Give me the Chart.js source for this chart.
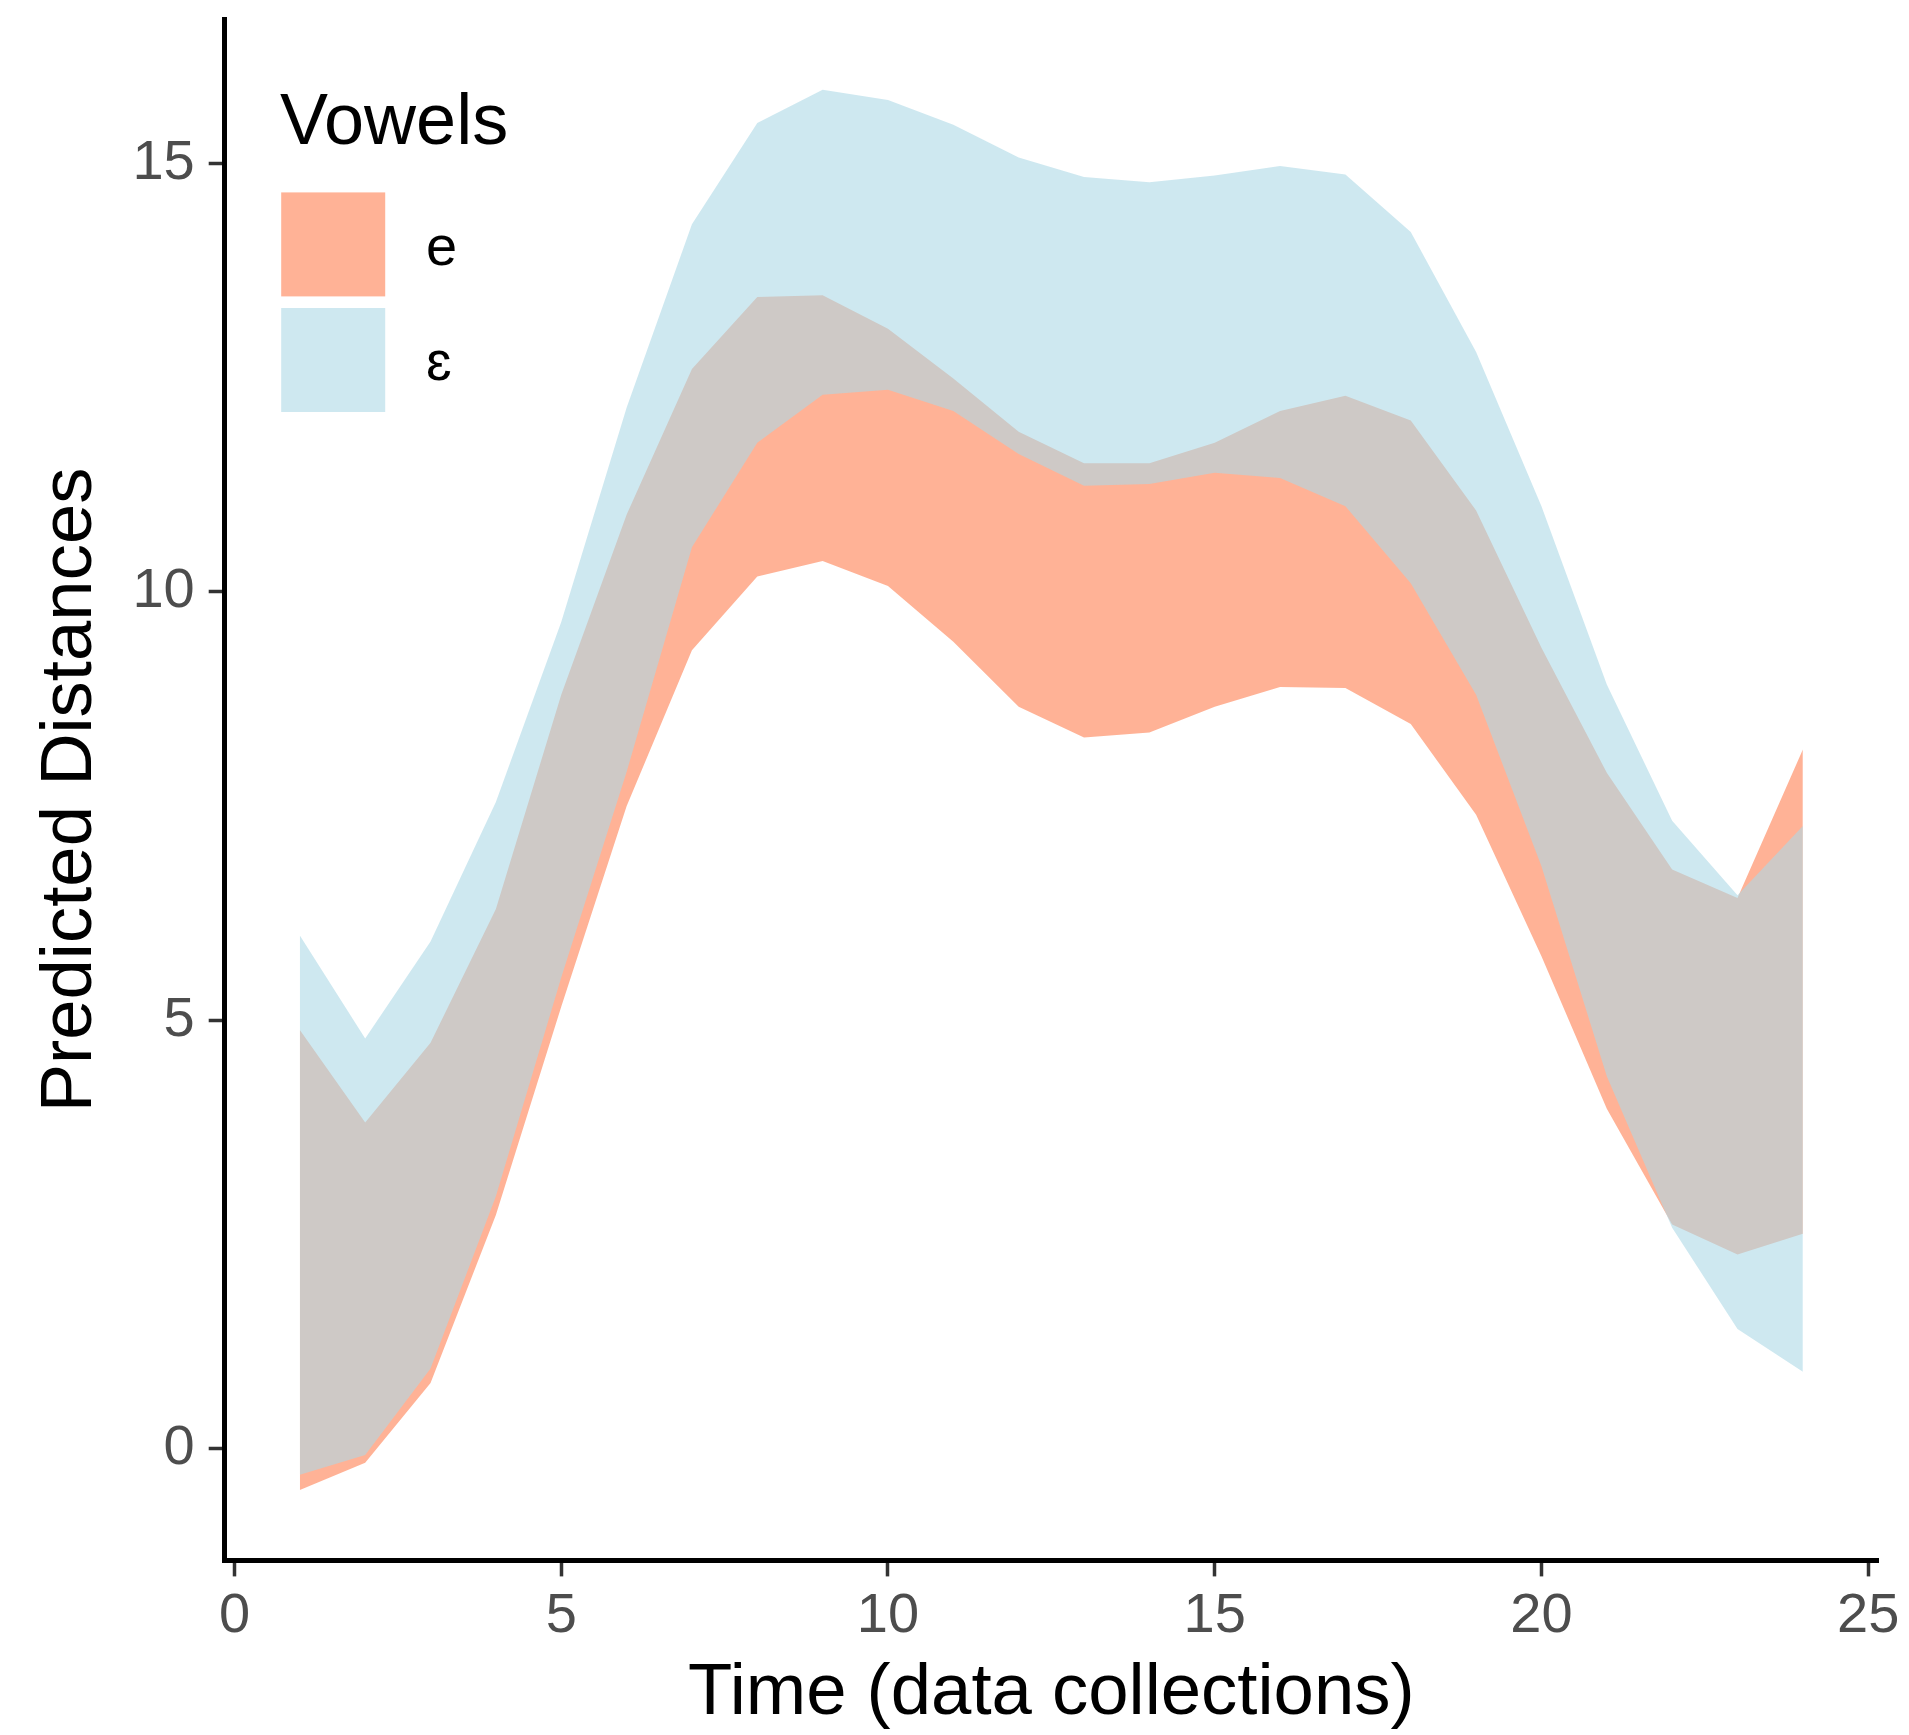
<!DOCTYPE html>
<html>
<head>
<meta charset="utf-8">
<title>Predicted Distances by Vowel</title>
<script src="https://cdn.jsdelivr.net/npm/chart.js@4.4.1/dist/chart.umd.min.js"></script>
<style>
  html, body { margin: 0; padding: 0; background: #ffffff; }
  #wrap { width: 1909px; height: 1735px; }
</style>
</head>
<body>
<div id="wrap"><canvas id="chart" width="1909" height="1735"></canvas></div>
<script>
// Time points (data collections)
const timePoints = [1, 2, 3, 4, 5, 6, 7, 8, 9, 10, 11, 12, 13, 14, 15, 16, 17, 18, 19, 20, 21, 22, 23, 24];

// Vowel categories
const vowels = ['e', 'ɛ'];

// Ribbon bounds for /e/
const eUpper = [4.89, 3.81, 4.74, 6.30, 8.80, 10.90, 12.60, 13.44, 13.46, 13.07, 12.49, 11.87,
                11.50, 11.50, 11.74, 12.11, 12.29, 12.00, 10.95, 9.35, 7.89, 6.76, 6.43, 8.16];
const eLower = [-0.48, -0.16, 0.77, 2.73, 5.16, 7.50, 9.32, 10.18, 10.36, 10.07, 9.42, 8.66,
                8.30, 8.36, 8.66, 8.89, 8.88, 8.46, 7.40, 5.75, 3.97, 2.62, 2.27, 2.51];

// Ribbon bounds for /ɛ/
const epsUpper = [5.99, 4.79, 5.92, 7.55, 9.65, 12.15, 14.29, 15.47, 15.86, 15.74, 15.45, 15.07,
                  14.84, 14.78, 14.86, 14.97, 14.87, 14.20, 12.80, 11.00, 8.92, 7.33, 6.46, 7.27];
const epsLower = [-0.30, -0.07, 0.94, 2.95, 5.50, 7.90, 10.52, 11.74, 12.30, 12.36, 12.11, 11.61,
                  11.24, 11.26, 11.39, 11.33, 11.00, 10.10, 8.80, 6.80, 4.35, 2.58, 1.40, 0.90];

// Axis tick labels
const xTicks = [0, 5, 10, 15, 20, 25];
const yTicks = [0, 5, 10, 15];

const FONT = "'Liberation Sans', Arial, Helvetica, sans-serif";
const COLOR_E = 'rgba(255, 127, 80, 0.6)';     // coral, semi-transparent
const COLOR_EPS = 'rgba(173, 216, 230, 0.6)';  // light blue, semi-transparent

const toPoints = arr => arr.map((v, i) => ({ x: timePoints[i], y: v }));

const ribbonBase = {
  borderWidth: 0,
  borderColor: 'transparent',
  pointRadius: 0,
  pointHoverRadius: 0,
  tension: 0
};

// Legend drawn inside the panel, top-left
const vowelLegend = {
  id: 'vowelLegend',
  afterDraw(chart) {
    const { ctx, chartArea } = chart;
    const x0 = chartArea.left;
    const y0 = chartArea.top;
    const keyColors = [COLOR_E, COLOR_EPS];
    ctx.save();
    ctx.fillStyle = '#000000';
    ctx.font = `72px ${FONT}`;
    ctx.textAlign = 'left';
    ctx.textBaseline = 'alphabetic';
    ctx.fillText('Vowels', x0 + 55.3, y0 + 124.3);
    const keySize = 104;
    const keyTops = [173, 288.6];
    vowels.forEach((v, i) => {
      const top = y0 + keyTops[i];
      ctx.fillStyle = '#ffffff';
      ctx.fillRect(x0 + 56.5, top, keySize, keySize);
      ctx.fillStyle = keyColors[i];
      ctx.fillRect(x0 + 56.5, top, keySize, keySize);
      ctx.fillStyle = '#000000';
      ctx.font = `56px ${FONT}`;
      ctx.textBaseline = 'middle';
      ctx.fillText(v, x0 + 201.4, top + keySize / 2 + 5);
    });
    ctx.restore();
  }
};

new Chart(document.getElementById('chart'), {
  type: 'line',
  data: {
    datasets: [
      Object.assign({ label: vowels[0] + ' lower', data: toPoints(eLower), fill: false, order: 2 }, ribbonBase),
      Object.assign({ label: vowels[0], data: toPoints(eUpper), fill: '-1', backgroundColor: COLOR_E, order: 2 }, ribbonBase),
      Object.assign({ label: vowels[1] + ' lower', data: toPoints(epsLower), fill: false, order: 1 }, ribbonBase),
      Object.assign({ label: vowels[1], data: toPoints(epsUpper), fill: '-1', backgroundColor: COLOR_EPS, order: 1 }, ribbonBase)
    ]
  },
  options: {
    responsive: false,
    animation: false,
    devicePixelRatio: 1,
    layout: { padding: { top: 19.4, right: 31, left: 0, bottom: 0 } },
    plugins: {
      legend: { display: false },
      tooltip: { enabled: false }
    },
    scales: {
      x: {
        type: 'linear',
        min: -0.15,
        max: 25.15,
        afterBuildTicks: s => { s.ticks = xTicks.map(v => ({ value: v })); },
        afterFit: s => { s.height = 1735 - 1560.4; s.paddingLeft = 0; s.paddingRight = 0; },
        border: { display: true, color: '#000000', width: 5 },
        grid: { display: true, drawOnChartArea: false, drawTicks: true, tickLength: 16, tickWidth: 3.5, tickColor: '#333333' },
        ticks: { color: '#4D4D4D', font: { family: FONT, size: 56 }, padding: 7, maxRotation: 0, autoSkip: false },
        title: { display: true, text: 'Time (data collections)', color: '#000000', font: { family: FONT, size: 72.5 }, padding: { top: 0, bottom: -2 } }
      },
      y: {
        type: 'linear',
        min: -1.30,
        max: 16.68,
        afterBuildTicks: s => { s.ticks = yTicks.map(v => ({ value: v })); },
        afterFit: s => { s.width = 224.7; s.paddingTop = 0; s.paddingBottom = 0; },
        border: { display: true, color: '#000000', width: 5 },
        grid: { display: true, drawOnChartArea: false, drawTicks: true, tickLength: 16, tickWidth: 3.5, tickColor: '#333333' },
        ticks: { color: '#4D4D4D', font: { family: FONT, size: 56 }, padding: 14, autoSkip: false },
        title: { display: true, text: 'Predicted Distances', color: '#000000', font: { family: FONT, size: 72.5 }, padding: { top: 27, bottom: 0 } }
      }
    }
  },
  plugins: [vowelLegend]
});
</script>
</body>
</html>
